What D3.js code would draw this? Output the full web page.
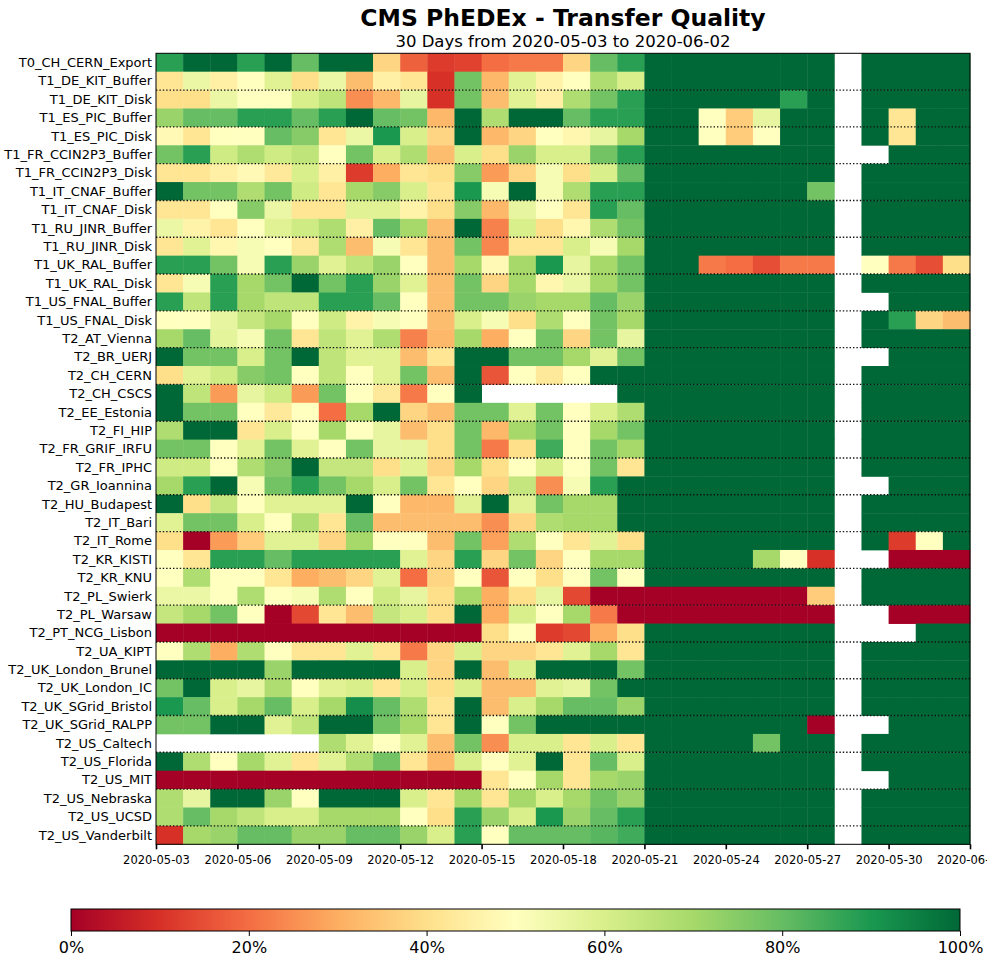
<!DOCTYPE html>
<html>
<head>
<meta charset="UTF-8">
<title>CMS PhEDEx - Transfer Quality</title>
<style>
    body { margin: 0; background: #fff; }
    svg { display: block; font-family: "DejaVu Sans", sans-serif; }
</style>
</head>
<body>
<svg></svg>
<script src="https://d3js.org/d3.v7.min.js"></script>
<script>

let width = 987, height = 961;

// sites, top to bottom
let sites = ["T0_CH_CERN_Export", "T1_DE_KIT_Buffer", "T1_DE_KIT_Disk", "T1_ES_PIC_Buffer", "T1_ES_PIC_Disk",
    "T1_FR_CCIN2P3_Buffer", "T1_FR_CCIN2P3_Disk", "T1_IT_CNAF_Buffer", "T1_IT_CNAF_Disk", "T1_RU_JINR_Buffer",
    "T1_RU_JINR_Disk", "T1_UK_RAL_Buffer", "T1_UK_RAL_Disk", "T1_US_FNAL_Buffer", "T1_US_FNAL_Disk",
    "T2_AT_Vienna", "T2_BR_UERJ", "T2_CH_CERN", "T2_CH_CSCS", "T2_EE_Estonia", "T2_FI_HIP", "T2_FR_GRIF_IRFU",
    "T2_FR_IPHC", "T2_GR_Ioannina", "T2_HU_Budapest", "T2_IT_Bari", "T2_IT_Rome", "T2_KR_KISTI", "T2_KR_KNU",
    "T2_PL_Swierk", "T2_PL_Warsaw", "T2_PT_NCG_Lisbon", "T2_UA_KIPT", "T2_UK_London_Brunel", "T2_UK_London_IC",
    "T2_UK_SGrid_Bristol", "T2_UK_SGrid_RALPP", "T2_US_Caltech", "T2_US_Florida", "T2_US_MIT", "T2_US_Nebraska",
    "T2_US_UCSD", "T2_US_Vanderbilt"];

// one column per day
let days = ["2020-05-03", "2020-05-04", "2020-05-05", "2020-05-06", "2020-05-07", "2020-05-08", "2020-05-09",
    "2020-05-10", "2020-05-11", "2020-05-12", "2020-05-13", "2020-05-14", "2020-05-15", "2020-05-16",
    "2020-05-17", "2020-05-18", "2020-05-19", "2020-05-20", "2020-05-21", "2020-05-22", "2020-05-23",
    "2020-05-24", "2020-05-25", "2020-05-26", "2020-05-27", "2020-05-28", "2020-05-29", "2020-05-30",
    "2020-05-31", "2020-06-01"];

let tickDays = ["2020-05-03", "2020-05-06", "2020-05-09", "2020-05-12", "2020-05-15", "2020-05-18",
    "2020-05-21", "2020-05-24", "2020-05-27", "2020-05-30", "2020-06-02"];

// transfer quality (0..1), null = no data
let quality = [
    [.88,1,1,.88,1,.8,1,1,.38, .18,.12,.13,.2,.22,.22,.38,.8,.88, 1,1,1,1,1,1,1,null,1,1,1,1],
    [.42,.55,.45,.5,.58,.4,.55,.33,.45, .42,.1,.78,.32,.58,.46,.5,.68,.6, 1,1,1,1,1,1,1,null,1,1,1,1],
    [.4,.4,.55,.5,.5,.6,.65,.25,.32, .56,.1,.78,.33,.58,.45,.68,.78,.88, 1,1,1,1,1,.88,1,null,1,1,1,1],
    [.72,.8,.8,.88,.88,.8,.88,1,.8, .78,.32,1,.68,1,1,.8,.88,.88, 1,1,.5,.36,.56,1,1,null,1,.42,1,1],
    [.48,.42,.5,.5,.8,.75,.42,.55,.9, .6,.38,1,.32,.38,.5,.47,.56,.7, 1,1,.5,.36,.5,1,1,null,1,.42,1,1],
    [.78,.88,.62,.68,.62,.65,.5,.78,.6, .68,.33,.6,.4,.72,.6,.6,.78,.88, 1,1,1,1,1,1,1,null,null,1,1,1],
    [.42,.42,.45,.48,.43,.6,.45,.12,.3, .42,.4,.75,.27,.38,.52,.4,.6,.8, 1,1,1,1,1,1,1,null,1,1,1,1],
    [1,.78,.78,.68,.78,.62,.42,.7,.75, .6,.42,.9,.52,1,.52,.68,.88,.88, 1,1,1,1,1,1,.78,null,1,1,1,1],
    [.42,.42,.5,.75,.55,.42,.42,.58,.58, .46,.4,.75,.32,.56,.5,.42,.88,.8, 1,1,1,1,1,1,1,null,1,1,1,1],
    [.55,.46,.42,.5,.58,.62,.68,.45,.8, .7,.33,1,.23,.6,.4,.47,.68,.78, 1,1,1,1,1,1,1,null,1,1,1,1],
    [.42,.58,.47,.52,.5,.43,.68,.33,.52, .42,.33,.78,.24,.42,.42,.6,.52,.7, 1,1,1,1,1,1,1,null,1,1,1,1],
    [.88,.88,.78,.52,.88,.72,.58,.65,.72, .5,.33,.7,.48,.7,.9,.56,.7,.78, 1,1,.22,.2,.15,.22,.22,null,.5,.22,.15,.4],
    [.42,.52,.88,.7,.78,1,.78,.88,.72, .58,.33,.78,.38,.7,.47,.55,.7,.78, 1,1,1,1,1,1,1,null,1,1,1,1],
    [.88,.65,.88,.7,.65,.65,.88,.88,.8, .5,.33,.78,.78,.72,.7,.7,.8,.72, 1,1,1,1,1,1,1,null,null,1,1,1],
    [.5,.5,.56,.64,.7,.5,.62,.46,.52, .5,.33,.6,.52,.4,.68,.5,.78,.7, 1,1,1,1,1,1,1,null,1,.88,.38,.33],
    [.7,.8,.57,.52,.78,.42,.65,.58,.68, .23,.32,.7,.3,.5,.78,.38,.78,.56, 1,1,1,1,1,1,1,null,1,1,1,1],
    [1,.78,.78,.6,.78,1,.65,.58,.58, .33,.42,1,1,.78,.78,.7,.58,.78, 1,1,1,1,1,1,1,null,null,1,1,1],
    [.4,.58,.62,.75,.78,.5,.65,.5,.58, .78,.33,1,.16,.5,.43,.5,1,1, 1,1,1,1,1,1,1,null,1,1,1,1],
    [1,.65,.27,.56,.62,.27,.78,.5,.43, .22,.5,1,null,null,null,null,null,1, 1,1,1,1,1,1,1,null,1,1,1,1],
    [1,.78,.78,.5,.43,.5,.2,.7,1, .38,.33,.78,.78,.58,.78,.5,.6,.68, 1,1,1,1,1,1,1,null,1,1,1,1],
    [.68,1,1,.42,.6,.5,.7,.5,.56, .33,.4,.78,.32,.7,.78,.5,.7,.78, 1,1,1,1,1,1,1,null,1,1,1,1],
    [.78,.78,.5,.58,.78,.58,.5,.78,.56, .56,.4,.78,.22,.4,.85,.5,.78,.7, 1,1,1,1,1,1,1,null,1,1,1,1],
    [.62,.62,.5,.68,.75,1,.64,.64,.4, .58,.38,.7,.4,.5,.6,.5,.78,.42, 1,1,1,1,1,1,1,null,1,1,1,1],
    [.7,.88,1,.52,.78,.88,.78,.7,.6, .78,.42,.5,.38,.64,.25,.52,.88,1, 1,1,1,1,1,1,1,null,null,1,1,1],
    [1,.4,.64,.5,.58,.58,.58,1,.5, .32,.32,.58,1,.58,.78,.7,.7,1, 1,1,1,1,1,1,1,null,1,1,1,1],
    [.58,.78,.78,.6,.5,.68,.42,.8,.33, .33,.33,.33,.25,.38,.68,.7,.7,1, 1,1,1,1,1,1,1,null,1,1,1,1],
    [.4,0,.27,.36,.58,.58,.38,.7,.5, .5,.33,.78,.28,.68,.5,.42,.58,.4, 1,1,1,1,1,1,1,null,1,.12,.5,1],
    [.5,.42,.88,.88,.8,.88,.88,.88,.88, .58,.38,.88,.38,.78,.38,.5,.7,.7, 1,1,1,1,.7,.5,.1,null,null,0,0,0],
    [.5,.68,.5,.5,.42,.3,.33,.38,.58, .2,.38,.5,.16,.5,.4,.5,.78,.5, 1,1,1,1,1,1,1,null,1,1,1,1],
    [.55,.55,.5,.68,.5,.52,.68,.5,.62, .56,.4,.7,.3,.4,.56,.14,0,0, 0,0,0,0,0,0,.36,null,1,1,1,1],
    [.64,.7,.78,.5,0,.14,.42,.33,.64, .6,.4,1,.3,.6,.5,.7,.22,0, 0,0,0,0,0,0,0,null,null,0,0,0],
    [0,0,0,0,0,0,0,0,0, 0,0,0,.4,.5,.12,.14,.3,.4, 1,1,1,1,1,1,1,null,null,null,1,1],
    [.5,.68,.3,.68,.5,.42,.42,.58,.42, .22,.38,.6,.38,.38,.42,.58,.7,.42, 1,1,1,1,1,1,1,null,1,1,1,1],
    [1,1,1,1,.72,1,1,1,1, .6,.38,1,.33,.6,1,1,1,.78, 1,1,1,1,1,1,1,null,1,1,1,1],
    [.78,1,.6,.56,.68,.5,.58,.6,.42, .6,.4,.6,.33,.33,.58,.56,.78,1, 1,1,1,1,1,1,1,null,1,1,1,1],
    [.9,.8,.6,.7,.8,.6,.7,.92,.8, .68,.42,1,.33,.6,.7,.8,.8,.72, 1,1,1,1,1,1,1,null,1,1,1,1],
    [.78,.78,1,1,.58,.65,1,1,.78, .7,.42,1,.5,.78,1,1,1,1, 1,1,1,1,1,1,0,null,null,1,1,1],
    [null,null,null,null,null,null,.68,.58,.5, .58,.33,.78,.25,.6,.6,.42,.6,.42, 1,1,1,1,.78,1,1,null,1,1,1,1],
    [1,.68,.5,.7,.58,.42,.58,.68,.78, .42,.32,.6,.5,.58,1,.42,.8,.6, 1,1,1,1,1,1,1,null,1,1,1,1],
    [0,0,0,0,0,0,0,0,0, 0,0,0,.42,.5,.7,.42,.7,.72, 1,1,1,1,1,1,1,null,null,1,1,1],
    [.68,.56,1,1,.72,.5,1,1,1, .6,.42,.7,.42,.7,.6,.7,.78,.72, 1,1,1,1,1,1,1,null,1,1,1,1],
    [.68,.8,.7,.65,.6,.6,.7,.7,.7, .5,.4,.88,.72,.6,.9,.72,.8,.88, 1,1,1,1,1,1,1,null,1,1,1,1],
    [.1,.7,.72,.8,.8,.72,.72,.8,.8, .72,.6,.88,.5,.8,.8,.8,.82,.85, 1,1,1,1,1,1,1,null,1,1,1,1]
];

let legendTicks = [0, 0.2, 0.4, 0.6, 0.8, 1];

let svg = d3.select("svg")
    .attr("width", width)
    .attr("height", height);

let parse = d3.utcParse("%Y-%m-%d");
let fmt = d3.utcFormat("%Y-%m-%d");

let plotLeft = 156, plotRight = 970, plotTop = 53.3, plotBottom = 844.3;

let x = d3.scaleUtc()
    .domain([parse("2020-05-03"), parse("2020-06-02")])
    .range([plotLeft, plotRight]);

let y = d3.scaleBand()
    .domain(sites)
    .range([plotTop, plotBottom]);

// RdYlGn, linear between the 11 brewer colours like matplotlib
let color = d3.scaleLinear()
    .domain(d3.range(11).map(i => i / 10))
    .range(d3.schemeRdYlGn[11])
    .interpolate(d3.interpolateRgb)
    .clamp(true);

// title
svg.append("text")
    .attr("x", 563).attr("y", 26)
    .attr("text-anchor", "middle")
    .style("font-size", "23.5px")
    .style("font-weight", "bold")
    .text("CMS PhEDEx - Transfer Quality");

svg.append("text")
    .attr("x", 563).attr("y", 47)
    .attr("text-anchor", "middle")
    .style("font-size", "16.5px")
    .text("30 Days from 2020-05-03 to 2020-06-02");

// heatmap cells
let cells = [];
quality.forEach((row, i) => {
    row.forEach((v, j) => {
        if (v !== null) cells.push({site: sites[i], day: parse(days[j]), v: v});
    });
});

svg.append("g")
    .selectAll("rect")
    .data(cells)
    .enter()
    .append("rect")
    .attr("x", d => x(d.day))
    .attr("y", d => y(d.site))
    .attr("width", d => x(d3.utcDay.offset(d.day, 1)) - x(d.day) + 0.4)
    .attr("height", y.bandwidth() + 0.4)
    .attr("fill", d => color(d.v));

// dotted separators every two rows
let sepRows = sites.filter((s, i) => i > 0 && i % 2 == 0);
svg.append("g")
    .selectAll("line")
    .data(sepRows)
    .enter()
    .append("line")
    .attr("x1", plotLeft).attr("x2", plotRight)
    .attr("y1", d => y(d)).attr("y2", d => y(d))
    .attr("stroke", "#111")
    .attr("stroke-width", 1.4)
    .attr("stroke-dasharray", "1.4,2");

// frame
svg.append("rect")
    .attr("x", plotLeft).attr("y", plotTop)
    .attr("width", plotRight - plotLeft).attr("height", plotBottom - plotTop)
    .attr("fill", "none")
    .attr("stroke", "black")
    .attr("stroke-width", 1);

// y labels
svg.append("g")
    .selectAll("text")
    .data(sites)
    .enter()
    .append("text")
    .attr("x", plotLeft - 4)
    .attr("y", d => y(d) + y.bandwidth() / 2)
    .attr("dy", "0.35em")
    .attr("text-anchor", "end")
    .style("font-size", "13px")
    .text(d => d);

// x axis
let xAxis = d3.axisBottom(x)
    .tickValues(tickDays.map(parse))
    .tickFormat(fmt)
    .tickSize(5)
    .tickPadding(7);

let gx = svg.append("g")
    .attr("transform", "translate(0," + plotBottom + ")")
    .call(xAxis);
gx.select(".domain").remove();
gx.selectAll(".tick line").attr("stroke-width", 1.6);
gx.selectAll("text")
    .style("font-family", "DejaVu Sans")
    .style("font-size", "11.5px")
    .attr("fill", "black");

// colour bar
let cbLeft = 71, cbRight = 960, cbTop = 909, cbH = 22;
let defs = svg.append("defs");
let grad = defs.append("linearGradient").attr("id", "cbar");
grad.selectAll("stop")
    .data(d3.range(0, 1.0001, 0.05))
    .enter()
    .append("stop")
    .attr("offset", d => (d * 100) + "%")
    .attr("stop-color", d => color(d));

svg.append("rect")
    .attr("x", cbLeft).attr("y", cbTop)
    .attr("width", cbRight - cbLeft).attr("height", cbH)
    .attr("fill", "url(#cbar)")
    .attr("stroke", "black")
    .attr("stroke-width", 1);

let cb = d3.scaleLinear().domain([0, 1]).range([cbLeft, cbRight]);
let cbAxis = d3.axisBottom(cb)
    .tickValues(legendTicks)
    .tickFormat(d3.format(".0%"))
    .tickSize(5)
    .tickPadding(6);

let gc = svg.append("g")
    .attr("transform", "translate(0," + (cbTop + cbH) + ")")
    .call(cbAxis);
gc.select(".domain").remove();
gc.selectAll("text")
    .style("font-family", "DejaVu Sans")
    .style("font-size", "16px")
    .attr("fill", "black");

</script>
</body>
</html>
